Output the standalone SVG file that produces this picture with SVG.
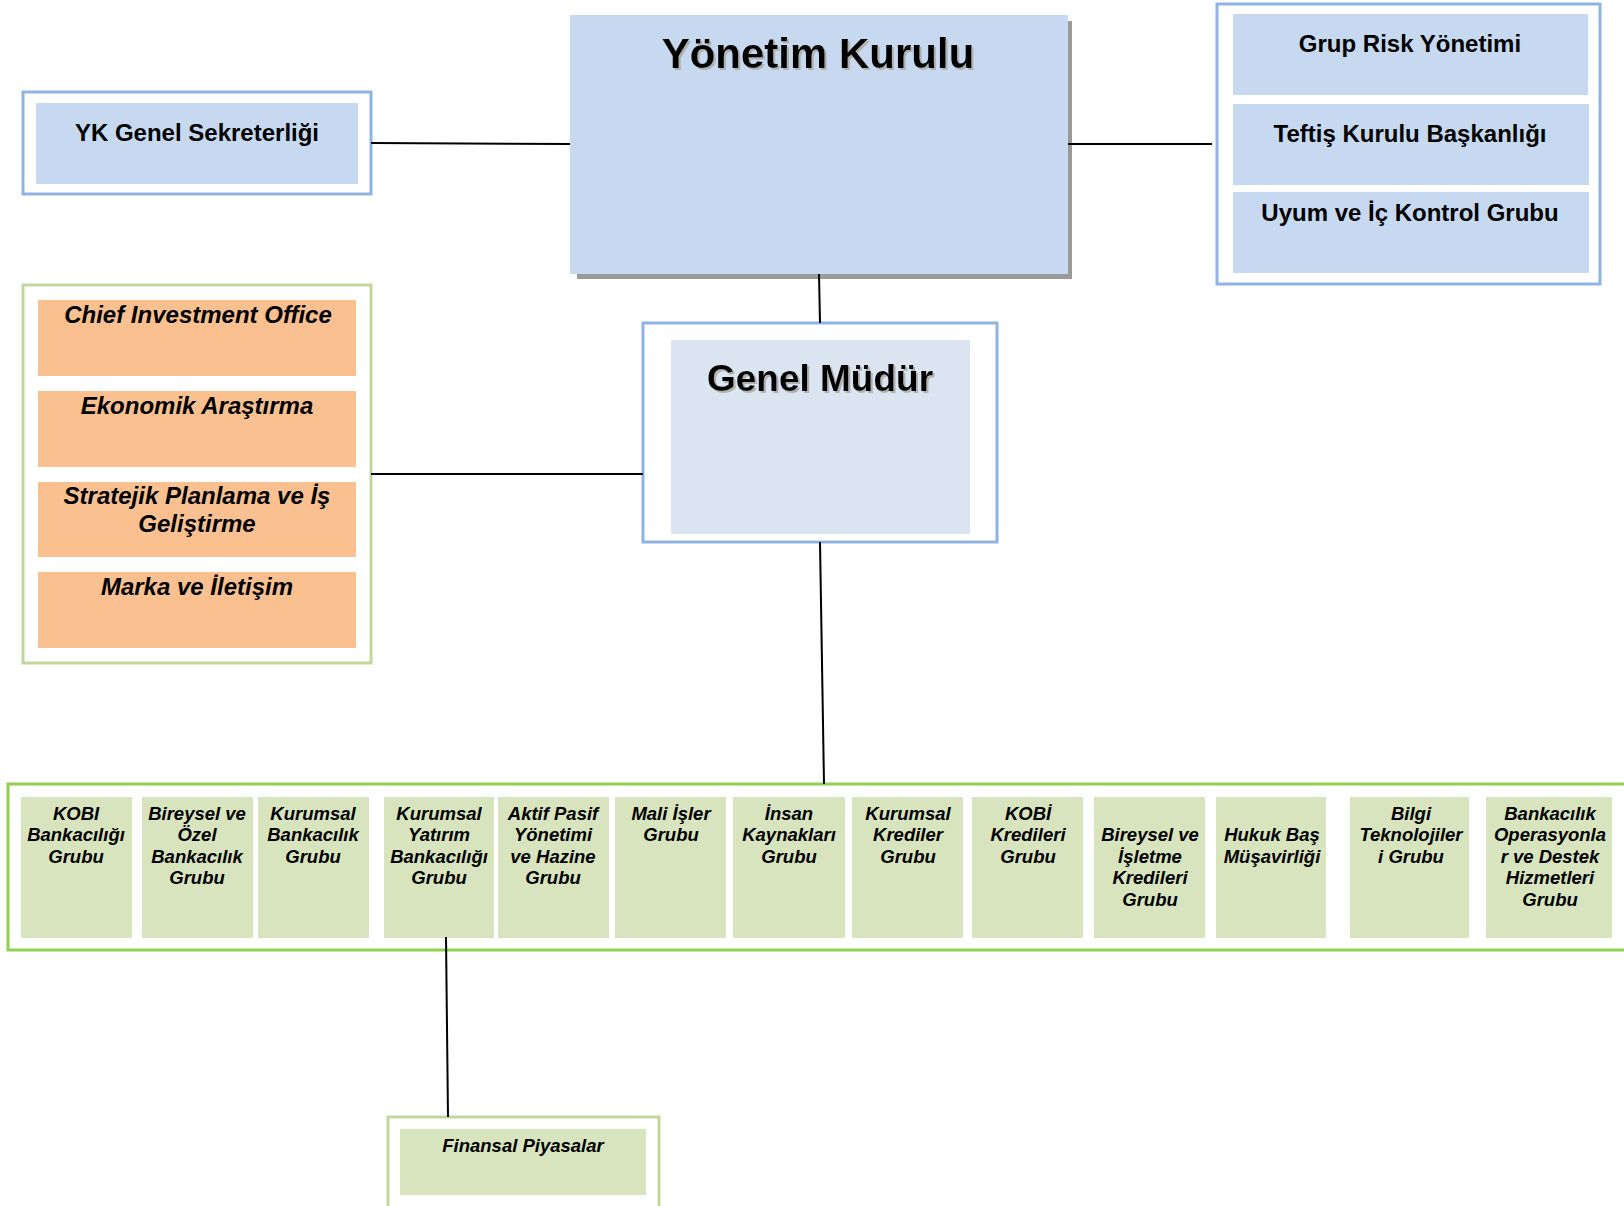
<svg xmlns="http://www.w3.org/2000/svg" width="1624" height="1206" viewBox="0 0 1624 1206">
<defs>
<filter id="ts" x="-5%" y="-20%" width="115%" height="150%">
<feDropShadow dx="2" dy="2" stdDeviation="0.6" flood-color="#b0b0b0" flood-opacity="1"/>
</filter>
<style>
text{font-family:"Liberation Sans",Arial,sans-serif;fill:#000;text-anchor:middle}
.bl{fill:#C6D9F1}
.gm{fill:#DBE5F1}
.or{fill:#FAC090}
.gr{fill:#D7E4BD}
.bb{fill:none;stroke:#8EB4E3;stroke-width:3}
.lg{fill:none;stroke:#C3D69B;stroke-width:3}
.bg{fill:none;stroke:#92D050;stroke-width:3}
.t24{font-size:24px;font-weight:bold}
.ti24{font-size:24px;font-weight:bold;font-style:italic}
.ti18{font-size:18.5px;font-weight:bold;font-style:italic}
.big{font-weight:bold;filter:url(#ts)}
.cn{stroke:#000;stroke-width:2;fill:none}
</style>
</defs>
<rect width="1624" height="1206" fill="#fff"/>

<g id="yk-genel-sekreterligi">
<rect class="bb" x="23" y="92" width="348" height="102"/>
<rect class="bl" x="36" y="103" width="322" height="81"/>
<text class="t24" x="197" y="141">YK Genel Sekreterliği</text>
</g>

<g id="yonetim-kurulu">
<rect x="577" y="21" width="495" height="258" fill="#9a9a9a"/>
<rect class="bl" x="570" y="15" width="498" height="259"/>
<text class="big" x="818" y="68" font-size="42">Yönetim Kurulu</text>
</g>

<g id="denetim-grubu">
<rect class="bb" x="1217" y="4" width="383" height="280"/>
<rect class="bl" x="1233" y="14" width="355" height="81"/>
<text class="t24" x="1410" y="52">Grup Risk Yönetimi</text>
<rect class="bl" x="1233" y="104" width="356" height="81"/>
<text class="t24" x="1410" y="142">Teftiş Kurulu Başkanlığı</text>
<rect class="bl" x="1233" y="192" width="356" height="81"/>
<text class="t24" x="1410" y="221">Uyum ve İç Kontrol Grubu</text>
</g>

<g id="genel-mudur">
<rect class="bb" x="643" y="323" width="354" height="219"/>
<rect class="gm" x="671" y="340" width="299" height="194"/>
<text class="big" x="820" y="391" font-size="37">Genel Müdür</text>
</g>

<g id="strateji-grubu">
<rect class="lg" x="23" y="285" width="348" height="378"/>
<rect class="or" x="38" y="300" width="318" height="76"/>
<text class="ti24" x="198" y="323">Chief Investment Office</text>
<rect class="or" x="38" y="391" width="318" height="76"/>
<text class="ti24" x="197" y="414">Ekonomik Araştırma</text>
<rect class="or" x="38" y="482" width="318" height="75"/>
<text class="ti24" x="197" y="504">Stratejik Planlama ve İş</text>
<text class="ti24" x="197" y="532">Geliştirme</text>
<rect class="or" x="38" y="572" width="318" height="76"/>
<text class="ti24" x="197" y="595">Marka ve İletişim</text>
</g>

<g id="is-gruplari">
<rect class="bg" x="8" y="784" width="1630" height="166"/>
</g>

<g id="kobi-bankaciligi">
<rect class="gr" x="21" y="797" width="111" height="141"/>
<text class="ti18" x="76" y="820">KOBI</text>
<text class="ti18" x="76" y="841">Bankacılığı</text>
<text class="ti18" x="76" y="863">Grubu</text>
</g>
<g id="bireysel-ozel">
<rect class="gr" x="142" y="797" width="111" height="141"/>
<text class="ti18" x="197" y="820">Bireysel ve</text>
<text class="ti18" x="197" y="841">Özel</text>
<text class="ti18" x="197" y="863">Bankacılık</text>
<text class="ti18" x="197" y="884">Grubu</text>
</g>
<g id="kurumsal-bankacilik">
<rect class="gr" x="258" y="797" width="111" height="141"/>
<text class="ti18" x="313" y="820">Kurumsal</text>
<text class="ti18" x="313" y="841">Bankacılık</text>
<text class="ti18" x="313" y="863">Grubu</text>
</g>
<g id="kurumsal-yatirim">
<rect class="gr" x="384" y="797" width="110" height="141"/>
<text class="ti18" x="439" y="820">Kurumsal</text>
<text class="ti18" x="439" y="841">Yatırım</text>
<text class="ti18" x="439" y="863">Bankacılığı</text>
<text class="ti18" x="439" y="884">Grubu</text>
</g>
<g id="aktif-pasif">
<rect class="gr" x="498" y="797" width="111" height="141"/>
<text class="ti18" x="553" y="820">Aktif Pasif</text>
<text class="ti18" x="553" y="841">Yönetimi</text>
<text class="ti18" x="553" y="863">ve Hazine</text>
<text class="ti18" x="553" y="884">Grubu</text>
</g>
<g id="mali-isler">
<rect class="gr" x="615" y="797" width="111" height="141"/>
<text class="ti18" x="671" y="820">Mali İşler</text>
<text class="ti18" x="671" y="841">Grubu</text>
</g>
<g id="insan-kaynaklari">
<rect class="gr" x="733" y="797" width="112" height="141"/>
<text class="ti18" x="789" y="820">İnsan</text>
<text class="ti18" x="789" y="841">Kaynakları</text>
<text class="ti18" x="789" y="863">Grubu</text>
</g>
<g id="kurumsal-krediler">
<rect class="gr" x="852" y="797" width="111" height="141"/>
<text class="ti18" x="908" y="820">Kurumsal</text>
<text class="ti18" x="908" y="841">Krediler</text>
<text class="ti18" x="908" y="863">Grubu</text>
</g>
<g id="kobi-kredileri">
<rect class="gr" x="972" y="797" width="111" height="141"/>
<text class="ti18" x="1028" y="820">KOBİ</text>
<text class="ti18" x="1028" y="841">Kredileri</text>
<text class="ti18" x="1028" y="863">Grubu</text>
</g>
<g id="bireysel-isletme">
<rect class="gr" x="1094" y="797" width="111" height="141"/>
<text class="ti18" x="1150" y="841">Bireysel ve</text>
<text class="ti18" x="1150" y="863">İşletme</text>
<text class="ti18" x="1150" y="884">Kredileri</text>
<text class="ti18" x="1150" y="906">Grubu</text>
</g>
<g id="hukuk">
<rect class="gr" x="1216" y="797" width="110" height="141"/>
<text class="ti18" x="1272" y="841">Hukuk Baş</text>
<text class="ti18" x="1272" y="863">Müşavirliği</text>
</g>
<g id="bilgi-teknolojileri">
<rect class="gr" x="1350" y="797" width="119" height="141"/>
<text class="ti18" x="1411" y="820">Bilgi</text>
<text class="ti18" x="1411" y="841">Teknolojiler</text>
<text class="ti18" x="1411" y="863">i Grubu</text>
</g>
<g id="bankacilik-operasyonlari">
<rect class="gr" x="1486" y="797" width="126" height="141"/>
<text class="ti18" x="1550" y="820">Bankacılık</text>
<text class="ti18" x="1550" y="841">Operasyonla</text>
<text class="ti18" x="1550" y="863">r ve Destek</text>
<text class="ti18" x="1550" y="884">Hizmetleri</text>
<text class="ti18" x="1550" y="906">Grubu</text>
</g>

<g id="finansal-piyasalar">
<rect class="lg" x="388" y="1117" width="271" height="100"/>
<rect class="gr" x="400" y="1129" width="246" height="66"/>
<text class="ti18" x="523" y="1152">Finansal Piyasalar</text>
</g>

<g id="connectors">
<line class="cn" x1="371" y1="143" x2="570" y2="144"/>
<line class="cn" x1="1068" y1="144" x2="1212" y2="144"/>
<line class="cn" x1="819" y1="274" x2="820" y2="323"/>
<line class="cn" x1="371" y1="474" x2="643" y2="474"/>
<line class="cn" x1="820" y1="542" x2="824" y2="784"/>
<line class="cn" x1="446" y1="937" x2="448" y2="1117"/>
</g>
</svg>
